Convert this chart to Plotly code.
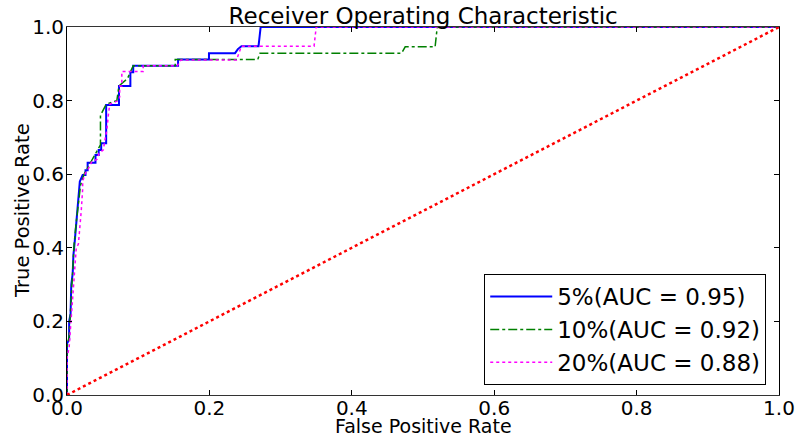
import plotly.graph_objects as go

# ROC curve data
fpr_5 = [0, 0, 0.003, 0.003, 0.005, 0.006, 0.008, 0.009, 0.011, 0.013, 0.015, 0.018, 0.022, 0.026, 0.026, 0.029, 0.029,
         0.040, 0.040, 0.0445, 0.0445, 0.048, 0.048, 0.055, 0.055, 0.073, 0.073, 0.089, 0.089, 0.093, 0.093,
         0.156, 0.156, 0.1994, 0.1994, 0.236, 0.240, 0.245, 0.269, 0.272, 1.0]
tpr_5 = [0, 0.14, 0.15, 0.20, 0.22, 0.30, 0.33, 0.38, 0.42, 0.47, 0.53, 0.58, 0.598, 0.598, 0.611, 0.611, 0.631,
         0.631, 0.652, 0.652, 0.666, 0.666, 0.684, 0.684, 0.788, 0.788, 0.840, 0.840, 0.877, 0.877, 0.895,
         0.895, 0.912, 0.912, 0.929, 0.929, 0.940, 0.948, 0.948, 1.0, 1.0]

fpr_10 = [0, 0, 0.003, 0.004, 0.006, 0.008, 0.010, 0.013, 0.016, 0.019, 0.024, 0.030, 0.035, 0.042, 0.047, 0.047,
          0.055, 0.070, 0.073, 0.085, 0.089, 0.093, 0.152, 0.152, 0.268, 0.271, 0.470, 0.475, 0.517, 0.520, 1.0]
tpr_10 = [0, 0.13, 0.16, 0.20, 0.28, 0.35, 0.41, 0.47, 0.53, 0.57, 0.60, 0.62, 0.64, 0.66, 0.68, 0.76,
          0.79, 0.80, 0.84, 0.86, 0.88, 0.895, 0.895, 0.912, 0.912, 0.929, 0.929, 0.946, 0.946, 1.0, 1.0]

fpr_20 = [0, 0, 0.003, 0.005, 0.007, 0.009, 0.011, 0.013, 0.016, 0.018, 0.020, 0.022, 0.022, 0.025, 0.030, 0.035,
          0.042, 0.045, 0.051, 0.053, 0.056, 0.058, 0.060, 0.072, 0.074, 0.074, 0.077, 0.077, 0.107, 0.107,
          0.155, 0.160, 0.238, 0.245, 0.347, 0.350, 1.0]
tpr_20 = [0, 0.10, 0.13, 0.18, 0.25, 0.30, 0.35, 0.40, 0.41, 0.45, 0.50, 0.56, 0.58, 0.60, 0.615, 0.635,
          0.640, 0.657, 0.666, 0.690, 0.720, 0.760, 0.790, 0.800, 0.810, 0.840, 0.840, 0.879, 0.879, 0.895,
          0.895, 0.910, 0.910, 0.948, 0.948, 1.0, 1.0]

diag = [0, 1]
labels = ["5%(AUC = 0.95)", "10%(AUC = 0.92)", "20%(AUC = 0.88)"]
tickvals = [0, 0.2, 0.4, 0.6, 0.8, 1.0]

FONT = "DejaVu Sans"

fig = go.Figure()
fig.add_trace(go.Scatter(x=fpr_5, y=tpr_5, mode="lines", name=labels[0],
                         line=dict(color="#0000ff", width=2)))
fig.add_trace(go.Scatter(x=fpr_10, y=tpr_10, mode="lines", name=labels[1],
                         line=dict(color="#008000", width=1.5, dash="dashdot")))
fig.add_trace(go.Scatter(x=fpr_20, y=tpr_20, mode="lines", name=labels[2],
                         line=dict(color="#ff00ff", width=1.5, dash="dot")))
fig.add_trace(go.Scatter(x=diag, y=diag, mode="lines", showlegend=False,
                         line=dict(color="#ff0000", width=2.5, dash="dot")))

axis_common = dict(
    range=[0, 1], tickvals=tickvals, tickformat=".1f",
    showline=True, linecolor="black", linewidth=1, mirror="allticks",
    ticks="inside", ticklen=5, tickcolor="black",
    showgrid=False, zeroline=False, automargin=False,
    tickfont=dict(family=FONT, size=20, color="black"),
)

fig.update_layout(
    width=799, height=439,
    margin=dict(l=67, r=20, t=27, b=44),
    paper_bgcolor="white", plot_bgcolor="white",
    font=dict(family=FONT, color="black"),
    title=dict(text="Receiver Operating Characteristic", x=0.5296, xanchor="center",
               y=0.9636, yanchor="middle", yref="container",
               font=dict(family=FONT, size=23, color="black")),
    xaxis=dict(axis_common, ticklabelstandoff=-5, linecolor="#333333"),
    yaxis=dict(axis_common, ticklabelstandoff=-2),
    legend=dict(x=0.586, y=0.027, xanchor="left", yanchor="bottom",
                bordercolor="black", borderwidth=1, bgcolor="white",
                font=dict(family=FONT, size=23, color="black"),
                itemwidth=62, tracegroupgap=2),
    showlegend=True,
    annotations=[
        dict(text="False Positive Rate", xref="paper", yref="paper", x=0.5, y=-0.1168,
             xanchor="center", yanchor="bottom", showarrow=False, borderpad=0,
             font=dict(family=FONT, size=19, color="black")),
        dict(text="True Positive Rate", xref="paper", yref="paper", x=-0.0632, y=0.5,
             xanchor="center", yanchor="middle", textangle=-90, showarrow=False,
             font=dict(family=FONT, size=19.5, color="black")),
    ],
)

fig.write_html("out.html")
